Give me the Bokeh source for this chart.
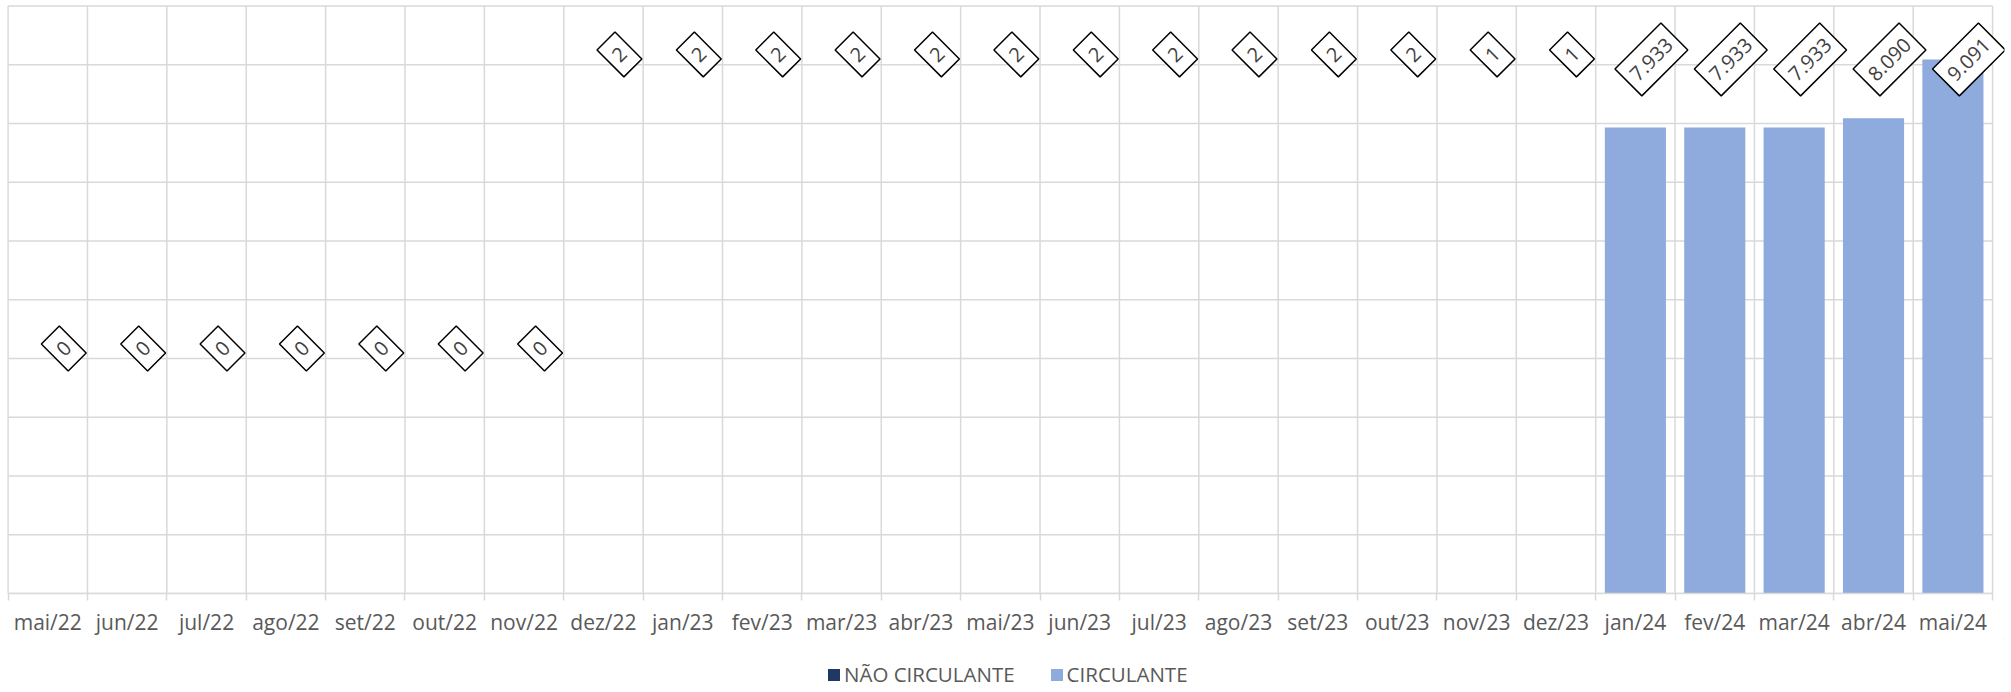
import math
from bokeh.plotting import figure
from bokeh.layouts import column
from bokeh.models import (ColumnDataSource, Range1d, FixedTicker, Legend, LegendItem)
from bokeh.core.properties import value
from bokeh.embed import file_html
from bokeh.resources import INLINE

months = ["mai/22", "jun/22", "jul/22", "ago/22", "set/22", "out/22", "nov/22",
          "dez/22", "jan/23", "fev/23", "mar/23", "abr/23", "mai/23", "jun/23",
          "jul/23", "ago/23", "set/23", "out/23", "nov/23", "dez/23",
          "jan/24", "fev/24", "mar/24", "abr/24", "mai/24"]
nao_circulante = [0] * 25
circulante = [0, 0, 0, 0, 0, 0, 0,
              2, 2, 2, 2, 2, 2, 2, 2, 2, 2, 2,
              1, 1,
              7933, 7933, 7933, 8090, 9091]
y_ticks = list(range(0, 10001, 1000))

FONT = "Open Sans"
GRID = "#d9d9d9"
TXT = "#595959"
C_NAO = "#203864"
C_CIRC = "#8faadc"

n = len(months)
xc = [i + 0.5 for i in range(n)]
bounds = list(range(n + 1))
top = [a + b for a, b in zip(nao_circulante, circulante)]
labels = [f"{v:,}".replace(",", ".") for v in circulante]
# Excel placed the data labels at fixed heights (style only)
label_y = [4170 if v == 0 else (9175 if v < 1000 else 9090) for v in circulante]

src = ColumnDataSource(dict(x=xc, nao=nao_circulante, top=top, zero=[0] * n,
                            lab=labels, ly=label_y))

y_max = y_ticks[-1]
p = figure(frame_width=1998, frame_height=590, output_backend="svg",
           toolbar_location=None,
           x_range=Range1d(-0.02, n + 0.15), y_range=Range1d(0, y_max * 590 / 587.5),
           min_border_left=6, min_border_right=7, min_border_top=3,
           min_border_bottom=45)
p.outline_line_color = None
p.background_fill_color = "white"
p.xgrid.visible = False
p.ygrid.visible = False

# gridlines limited to the plot area (Excel style)
p.segment(x0=0, x1=n, y0=y_ticks, y1=y_ticks, line_color=GRID, line_width=1.5)
p.segment(x0=bounds, x1=bounds, y0=0, y1=y_max, line_color=GRID, line_width=1.5)

p.vbar(x="x", bottom="zero", top="nao", width=0.77, source=src,
       fill_color=C_NAO, line_color=None)
p.vbar(x="x", bottom="nao", top="top", width=0.77, source=src,
       fill_color=C_CIRC, line_color=None)

p.text(x="x", y="ly", text="lab", source=src, angle=math.pi / 4,
       x_offset=16, text_align="center", text_baseline="middle",
       text_font=value(FONT), text_font_size="20px", text_color="#404040",
       background_fill_color="white", border_line_color="black",
       border_line_width=1.5,
       padding=dict(left=7, right=7, top=12, bottom=12))

p.yaxis.visible = False

ax = p.xaxis[0]
ax.bounds = (0, n)
ax.ticker = FixedTicker(ticks=xc, minor_ticks=bounds)
ax.major_label_overrides = {x: m for x, m in zip(xc, months)}
ax.major_tick_line_color = None
ax.major_tick_out = 0
ax.major_tick_in = 0
ax.minor_tick_out = 7
ax.minor_tick_in = 0
ax.minor_tick_line_color = GRID
ax.minor_tick_line_width = 1.5
ax.axis_line_color = GRID
ax.axis_line_width = 1.5
ax.major_label_standoff = 7
ax.major_label_text_font = FONT
ax.major_label_text_font_size = "21px"
ax.major_label_text_color = TXT

# legend row below the chart (proxy glyphs kept outside the visible range)
lg = figure(width=2011, height=52, output_backend="svg", toolbar_location=None,
            min_border=0, x_range=Range1d(0, 1), y_range=Range1d(0, 1))
lg.axis.visible = False
lg.grid.visible = False
lg.outline_line_color = None
lg.background_fill_color = "white"
l_nao = lg.vbar(x=[3], bottom=[3], top=[4], width=0.5, fill_color=C_NAO, line_color=None)
l_circ = lg.vbar(x=[3], bottom=[3], top=[4], width=0.5, fill_color=C_CIRC, line_color=None)
legend = Legend(items=[LegendItem(label="NÃO CIRCULANTE", renderers=[l_nao]),
                       LegendItem(label="CIRCULANTE", renderers=[l_circ])],
                orientation="horizontal", location=(820, 2),
                glyph_width=15, glyph_height=15, label_standoff=3, spacing=34,
                label_text_font=FONT, label_text_font_size="20.5px",
                label_text_color=TXT, border_line_color=None,
                background_fill_alpha=0, padding=0, margin=0)
lg.add_layout(legend)

open("out.html", "w").write(file_html(column(p, lg), INLINE))
